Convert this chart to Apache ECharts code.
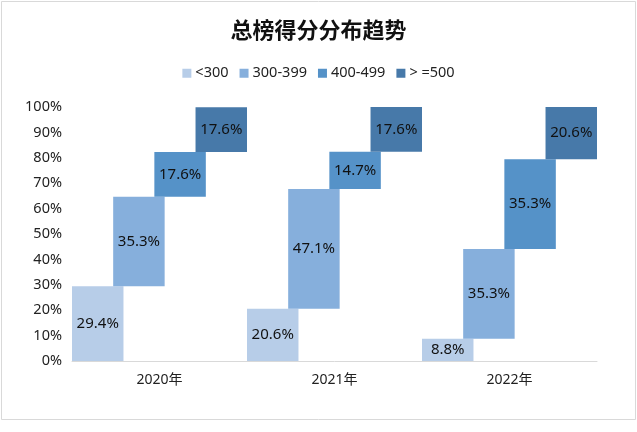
<!DOCTYPE html>
<html>
<head>
<meta charset="utf-8">
<script src="https://cdn.jsdelivr.net/npm/echarts@6/dist/echarts.min.js"></script>
<style>
html,body{margin:0;padding:0;background:#fff;}
#chart{width:637px;height:432px;}
</style>
</head>
<body>
<div id="chart"></div>
<script>
const categories = ['2020年', '2021年', '2022年'];
const seriesNames = ['<300', '300-399', '400-499', '>=500'];
const legendLabels = ['<300', '300-399', '400-499', '> =500'];
const valsLt300 = [29.4, 20.6, 8.8];
const vals300 = [35.3, 47.1, 35.3];
const vals400 = [17.6, 14.7, 35.3];
const valsGe500 = [17.6, 17.6, 20.6];
const yTicks = [0, 10, 20, 30, 40, 50, 60, 70, 80, 90, 100];
const colors = ['#B7CDE8', '#86AFDC', '#5592C8', '#4779A9'];

const allVals = [valsLt300, vals300, vals400, valsGe500];
const FONT = "'Noto Sans', 'Noto Sans CJK SC', sans-serif";

const series = [];
allVals.forEach((vals, i) => {
  const base = vals.map((_, j) => {
    let s = 0;
    for (let k = 0; k < i; k++) s += allVals[k][j];
    return +s.toFixed(2);
  });
  series.push({
    name: 'base' + i,
    type: 'bar',
    stack: 'g' + i,
    data: base,
    itemStyle: { color: 'rgba(0,0,0,0)' },
    silent: true,
    barGap: '-20%',
    barCategoryGap: '0%'
  });
  series.push({
    name: legendLabels[i],
    type: 'bar',
    stack: 'g' + i,
    data: vals,
    itemStyle: { color: colors[i] },
    barGap: '-20%',
    barCategoryGap: '0%',
    label: {
      show: true,
      position: 'inside',
      color: '#111',
      fontSize: 15,
      fontFamily: FONT,
      formatter: p => p.value.toFixed(1) + '%'
    }
  });
});

const chart = echarts.init(document.getElementById('chart'), null, { renderer: 'canvas' });
chart.setOption({
  backgroundColor: '#fff',
  animation: false,
  title: {
    text: '总榜得分分布趋势',
    left: 'center',
    top: 14,
    textStyle: { fontSize: 22, fontWeight: 'bold', color: '#111', fontFamily: "'Noto Sans CJK SC', sans-serif" }
  },
  legend: {
    data: legendLabels,
    top: 61,
    left: 'center',
    itemWidth: 9,
    itemHeight: 9,
    itemGap: 11,
    icon: 'rect',
    textStyle: { fontSize: 14.5, color: '#222', fontFamily: FONT, padding: [0, 0, 0, -1] }
  },
  grid: { left: 72, right: 40, top: 107, bottom: 71, containLabel: false },
  xAxis: {
    type: 'category',
    data: categories,
    axisLine: { lineStyle: { color: '#D9D9D9', width: 1 } },
    axisTick: { show: false },
    axisLabel: { fontSize: 14, color: '#222', margin: 12, fontFamily: FONT }
  },
  yAxis: {
    type: 'value',
    min: yTicks[0],
    max: yTicks[yTicks.length - 1],
    interval: yTicks[1] - yTicks[0],
    axisLine: { show: false },
    axisTick: { show: false },
    splitLine: { show: false },
    axisLabel: { fontSize: 14.5, color: '#222', margin: 10, fontFamily: FONT, formatter: '{value}%' }
  },
  graphic: [{
    type: 'rect',
    shape: { x: 1.5, y: 1.5, width: 634, height: 418 },
    style: { fill: 'none', stroke: '#D9D9D9', lineWidth: 1 },
    silent: true,
    z: 100
  }],
  series: series
});
</script>
</body>
</html>
